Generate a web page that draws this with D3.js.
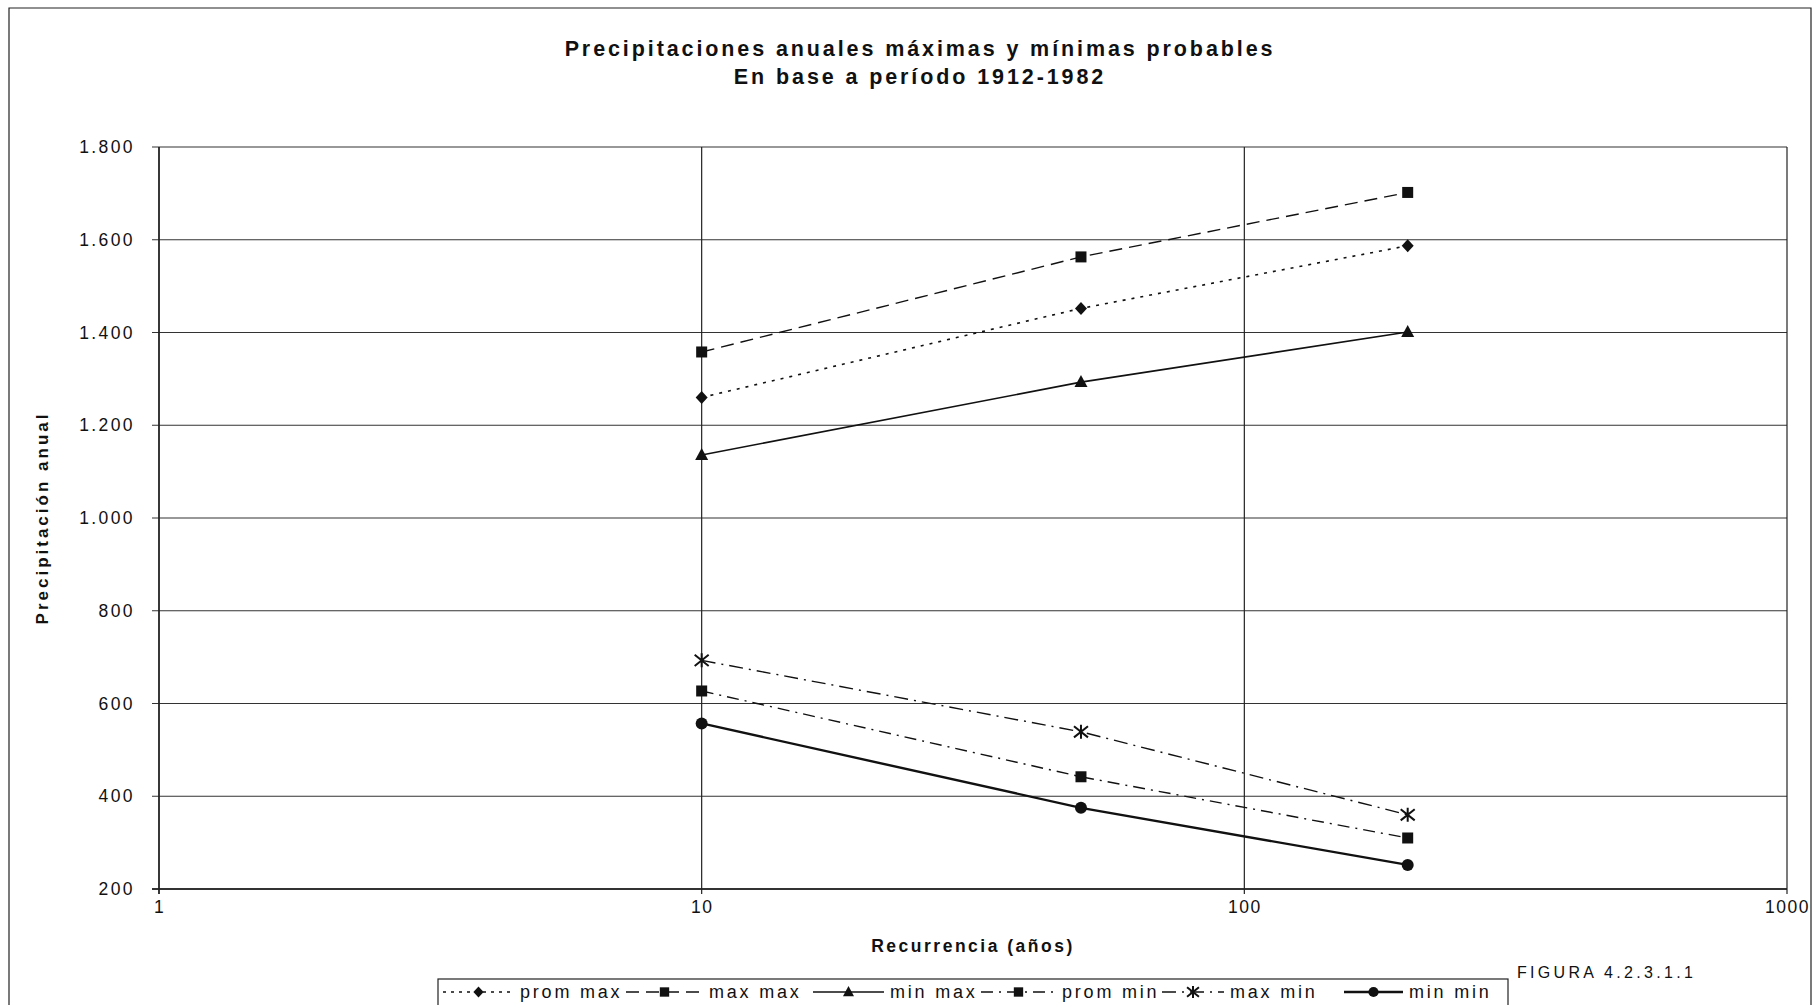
<!DOCTYPE html>
<html><head><meta charset="utf-8">
<script src="https://cdn.jsdelivr.net/npm/d3@7"></script>
<style>
html,body{margin:0;padding:0;background:#fff;}
svg{display:block;font-family:"Liberation Sans",Arial,sans-serif;}
</style></head>
<body>
<svg id="c" width="1814" height="1005"></svg>
<script>
// ---- data ----
const recurrence = [10, 50, 200];
const promMax = [1260, 1452, 1587];
const maxMax  = [1358, 1563, 1702];
const minMax  = [1136, 1293, 1401];
const promMin = [627, 442, 310];
const maxMin  = [693, 539, 360];
const minMin  = [557, 375, 252];
const seriesNames = ["prom max", "max max", "min max", "prom min", "max min", "min min"];
const xTicks = [1, 10, 100, 1000];
const yTicks = [200, 400, 600, 800, 1000, 1200, 1400, 1600, 1800];
const titleLines = ["Precipitaciones anuales máximas y mínimas probables", "En base a período 1912-1982"];
const xTitle = "Recurrencia (años)";
const yTitle = "Precipitación anual";
const figLabel = "FIGURA 4.2.3.1.1";

const seriesValues = [promMax, maxMax, minMax, promMin, maxMin, minMin];
const styles = [
  {dash:"3,6", w:1.6, marker:"diamond"},
  {dash:"13,7", w:1.4, marker:"square"},
  {dash:null, w:1.6, marker:"triangle"},
  {dash:"12,6,2,6", w:1.4, marker:"square"},
  {dash:"14,6,2,6", w:1.4, marker:"star"},
  {dash:null, w:2.4, marker:"circle"}
];
// legend layout (sample start x, text start x)
const legendSampleX = [443, 626, 813, 981, 1162, 1344];
const legendTextX   = [520, 709, 890, 1062, 1230, 1409];

const svg = d3.select("#c");
const M = {left:159, top:147, right:1787, bottom:889};
const x = d3.scaleLog().domain([1,1000]).range([M.left, M.right]);
const y = d3.scaleLinear().domain([200,1800]).range([M.bottom, M.top]);
const loc = d3.formatLocale({decimal:",", thousands:".", grouping:[3], currency:["",""]});
const fmt = loc.format(",d");
const FF = "\"Liberation Sans\",Arial,sans-serif";

// outer frame
svg.append("path").attr("d", `M9,1005 L9,8 L1811,8 L1811,1005`)
  .attr("fill","none").attr("stroke","#222").attr("stroke-width",1.2);

// title
const tt = svg.append("text").attr("text-anchor","middle").attr("font-weight","bold")
  .attr("font-size",21.5).attr("letter-spacing",2.9).attr("fill","#111");
titleLines.forEach((t,i)=> tt.append("tspan").attr("x",920).attr("y",56+i*28).text(t));

// grid
const g = svg.append("g");
g.selectAll("line.h").data(yTicks).join("line")
  .attr("x1",M.left-7).attr("x2",M.right).attr("y1",d=>y(d)).attr("y2",d=>y(d))
  .attr("stroke","#333").attr("stroke-width",d=>d===200?2.2:1.2);
g.selectAll("line.v").data(xTicks).join("line")
  .attr("x1",d=>x(d)).attr("x2",d=>x(d)).attr("y1",M.top).attr("y2",M.bottom+5)
  .attr("stroke","#222").attr("stroke-width",d=>d===1?1.8:1.2);

// axes labels via d3 axes (no domain)
const yAxis = d3.axisLeft(y).tickValues(yTicks).tickFormat(fmt).tickSize(0).tickPadding(24);
const ya = svg.append("g").attr("transform",`translate(${M.left},0)`).call(yAxis);
ya.select(".domain").remove();
ya.selectAll("text").attr("font-size",17.5).attr("letter-spacing",2.4).attr("fill","#111")
  .attr("font-family",FF);
const xAxis = d3.axisBottom(x).tickValues(xTicks).tickFormat(d3.format("d")).tickSize(0).tickPadding(12);
const xa = svg.append("g").attr("transform",`translate(0,${M.bottom})`).call(xAxis);
xa.select(".domain").remove();
xa.selectAll("text").attr("font-size",17.5).attr("letter-spacing",1.5).attr("fill","#111")
  .attr("font-family",FF);

svg.append("text").attr("x",(M.left+M.right)/2).attr("y",952).attr("text-anchor","middle")
  .attr("font-weight","bold").attr("font-size",17.5).attr("letter-spacing",2.5).attr("fill","#111").text(xTitle);
svg.append("text").attr("transform",`translate(48,${(M.top+M.bottom)/2}) rotate(-90)`)
  .attr("text-anchor","middle").attr("font-weight","bold").attr("font-size",17).attr("letter-spacing",3)
  .attr("fill","#111").text(yTitle);

// markers
function marker(sel, type, s){
  s = s||1;
  if(type==="diamond") sel.append("path").attr("d",`M0,${-6.5*s}L${6*s},0L0,${6.5*s}L${-6*s},0Z`).attr("fill","#111");
  else if(type==="square") sel.append("rect").attr("x",-5.5*s).attr("y",-5.5*s).attr("width",11*s).attr("height",11*s).attr("fill","#111");
  else if(type==="triangle") sel.append("path").attr("d",`M0,${-7*s}L${6.5*s},${5*s}L${-6.5*s},${5*s}Z`).attr("fill","#111");
  else if(type==="circle") sel.append("circle").attr("r",6*s).attr("fill","#111");
  else if(type==="star"){
    const r=7*s;
    sel.append("path").attr("d",`M${-r},${-r*0.8}L${r},${r*0.8}M${-r},${r*0.8}L${r},${-r*0.8}M0,${-r}L0,${r}`)
      .attr("stroke","#111").attr("stroke-width",2).attr("fill","none");
  }
}

// series
const line = d3.line().x(d=>x(d[0])).y(d=>y(d[1]));
seriesValues.forEach((vals,i)=>{
  const pts = recurrence.map((r,j)=>[r,vals[j]]);
  const st = styles[i];
  svg.append("path").datum(pts).attr("d",line).attr("fill","none").attr("stroke","#111")
    .attr("stroke-width",st.w).attr("stroke-dasharray",st.dash);
  pts.forEach(p=>{
    const mg = svg.append("g").attr("transform",`translate(${x(p[0])},${y(p[1])})`);
    marker(mg, st.marker);
  });
});

// legend
const lg = svg.append("g");
const ly = 992;
lg.append("rect").attr("x",438).attr("y",979).attr("width",1508-438).attr("height",40)
  .attr("fill","#fff").attr("stroke","#222").attr("stroke-width",1.2);
seriesNames.forEach((name,i)=>{
  const st = styles[i];
  const x0 = legendSampleX[i], x1 = legendTextX[i]-6;
  lg.append("line").attr("x1",x0).attr("x2",x1).attr("y1",ly).attr("y2",ly)
    .attr("stroke","#111").attr("stroke-width",st.w).attr("stroke-dasharray",st.dash==="3,6"?"3,5":st.dash);
  const mg = lg.append("g").attr("transform",`translate(${(x0+x1)/2},${ly})`);
  marker(mg, st.marker, 0.85);
  lg.append("text").attr("x",legendTextX[i]).attr("y",ly+6).attr("font-size",18)
    .attr("letter-spacing",2.8).attr("fill","#111").attr("font-family",FF).text(name);
});

svg.append("text").attr("x",1517).attr("y",978).attr("font-size",16).attr("letter-spacing",3.3)
  .attr("fill","#111").text(figLabel);
</script>
</body></html>
